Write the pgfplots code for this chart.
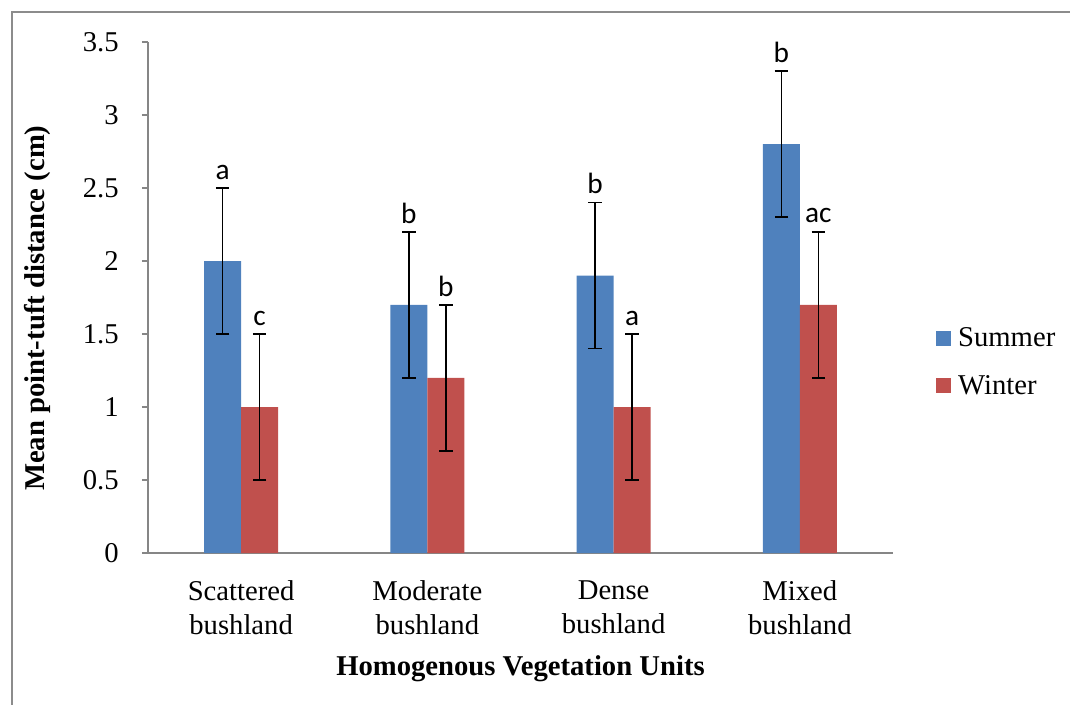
\documentclass[border=0pt]{standalone}
\usepackage{fontspec}
\setmainfont{Liberation Serif}
\newfontfamily\calibri{Carlito}
\usepackage{pgfplots}
\usepackage{pgfplotstable}
\pgfplotsset{compat=1.18}
\definecolor{summer}{HTML}{4F81BD}
\definecolor{winter}{HTML}{C0504D}
\definecolor{axgray}{HTML}{868686}
\definecolor{framegray}{HTML}{8C8C8C}
% x = category index shifted by half a bar width (0.09933 axis units)
\pgfplotstableread{
x y e l
-0.09933 2.0 0.5 a
0.90067 1.7 0.5 b
1.90067 1.9 0.5 b
2.90067 2.8 0.5 b
}\summerdata
\pgfplotstableread{
x y e l
0.09933 1.0 0.5 c
1.09933 1.2 0.5 b
2.09933 1.0 0.5 a
3.09933 1.7 0.5 ac
}\winterdata
\begin{document}
\begin{tikzpicture}
\path[use as bounding box] (-111pt,-113.25pt) rectangle (691.5pt,414.75pt);
\draw[framegray, line width=1.2pt] (-102pt,-130pt) -- (-102pt,405.75pt) -- (700pt,405.75pt);
\begin{axis}[
  at={(0,0)}, anchor=south west,
  scale only axis, width=558.75pt, height=383.25pt,
  xmin=-0.5, xmax=3.5, ymin=0, ymax=3.5,
  axis x line*=bottom, axis y line*=left,
  axis line style={draw=axgray, line width=1pt, -},
  xtick={0,1,2,3},
  xticklabels={{Scattered\\bushland},{Moderate\\bushland},{Dense\\bushland},{Mixed\\bushland}},
  x tick style={draw=none},
  ytick={0,0.5,1,1.5,2,2.5,3,3.5},
  y tick style={draw=axgray, line width=1pt},
  tick align=outside, major tick length=4.5pt,
  /pgf/number format/assume math mode=true,
  /pgf/number format/fixed,
  tick label style={font=\fontsize{21.5}{25}\selectfont},
  xticklabel style={align=center, yshift=-13pt},
  yticklabel style={xshift=-14pt},
  xlabel={\textbf{Homogenous Vegetation Units}},
  ylabel={\textbf{Mean point-tuft distance (cm)}},
  label style={font=\fontsize{21.5}{25}\selectfont},
  xlabel style={at={(axis description cs:0.5,-0.2388)}, anchor=base},
  ylabel style={at={(axis description cs:-0.1486,0.479)}, anchor=center},
  legend style={draw=none, fill=none, font=\fontsize{21.5}{25}\selectfont,
    at={(rel axis cs:1.058,0.3738)}, anchor=west, inner sep=0pt,
    row sep=16pt, legend cell align=left,
    /tikz/every odd column/.style={column sep=3pt}},
  error bars/error bar style={black, line width=1.3pt},
  error bars/error mark options={black, rotate=90, mark size=5pt, line width=1.3pt},
  nodes near coords,
  point meta=explicit symbolic,
  every node near coord/.append style={font=\calibri\fontsize{22}{24}\selectfont, inner sep=0pt, yshift=61pt, black},
]
\addplot[ybar, bar width=27.75pt, bar shift=0pt, fill=summer, draw=none,
  error bars/.cd, y dir=both, y explicit,
  /pgfplots/legend image code/.code={\fill[summer] (0pt,-5.625pt) rectangle (11.25pt,5.625pt);}]
  table[x=x, y=y, y error=e, meta=l] {\summerdata};
\addlegendentry{Summer}
\addplot[ybar, bar width=27.75pt, bar shift=0pt, fill=winter, draw=none,
  error bars/.cd, y dir=both, y explicit,
  /pgfplots/legend image code/.code={\fill[winter] (0pt,-5.625pt) rectangle (11.25pt,5.625pt);}]
  table[x=x, y=y, y error=e, meta=l] {\winterdata};
\addlegendentry{Winter}
\end{axis}
\end{tikzpicture}
\end{document}
